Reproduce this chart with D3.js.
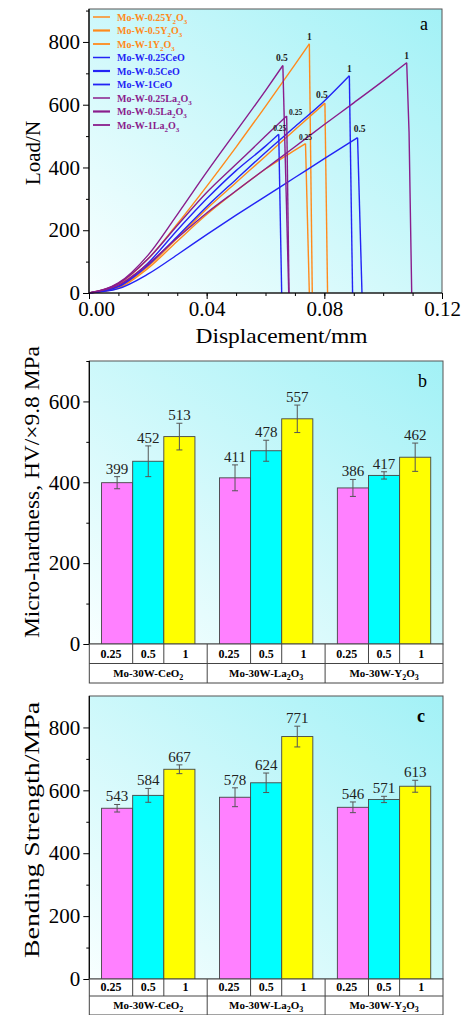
<!DOCTYPE html>
<html>
<head>
<meta charset="utf-8">
<script src="https://cdn.jsdelivr.net/npm/d3@7"></script>
<style>
  body { margin: 0; background: #fff; }
  svg { display: block; }
  svg text { font-family: "Liberation Serif", "Times New Roman", Times, serif; }
</style>
</head>
<body>
<div id="chart"></div>
<script>
// ---------- data: panel a (load vs displacement) ----------
const seriesNames = ["Mo-W-0.25", "Mo-W-0.5", "Mo-W-1", "Mo-W-0.25", "Mo-W-0.5", "Mo-W-1", "Mo-W-0.25", "Mo-W-0.5", "Mo-W-1"];
const seriesOxide = ["Y2O3", "Y2O3", "Y2O3", "CeO", "CeO", "CeO", "La2O3", "La2O3", "La2O3"];
const seriesLevel = ["0.25", "0.5", "1", "0.25", "0.5", "1", "0.25", "0.5", "1"];

const curveY025 = [[0,0],[0.01,16],[0.02,78],[0.03,165],[0.04,250],[0.05,325],[0.06,395],[0.07,455],[0.0736,476],[0.0749,0]];
const curveY05  = [[0,0],[0.01,18],[0.02,84],[0.03,175],[0.04,268],[0.05,352],[0.06,436],[0.07,520],[0.0802,605],[0.0811,0]];
const curveY1   = [[0,0],[0.01,28],[0.02,108],[0.03,220],[0.04,340],[0.05,465],[0.06,595],[0.07,728],[0.0749,794],[0.0759,0]];
const curveCe025 = [[0,0],[0.01,22],[0.02,95],[0.03,200],[0.04,300],[0.05,390],[0.06,468],[0.0645,506],[0.0655,0]];
const curveCe05  = [[0,0],[0.01,14],[0.02,60],[0.03,122],[0.04,186],[0.05,248],[0.06,308],[0.07,368],[0.08,428],[0.0913,495],[0.0928,0]];
const curveCe1   = [[0,0],[0.01,20],[0.02,88],[0.03,180],[0.04,275],[0.05,362],[0.06,448],[0.07,530],[0.08,612],[0.0885,692],[0.0896,0]];
const curveLa025 = [[0,0],[0.01,30],[0.02,108],[0.03,215],[0.04,320],[0.05,410],[0.06,500],[0.0672,564],[0.068,0]];
const curveLa05  = [[0,0],[0.01,32],[0.02,120],[0.03,250],[0.04,385],[0.05,515],[0.06,645],[0.0659,725],[0.0679,0]];
const curveLa1   = [[0,0],[0.01,25],[0.02,92],[0.03,175],[0.04,255],[0.05,326],[0.06,396],[0.07,466],[0.08,537],[0.09,606],[0.1,676],[0.108,734],[0.1088,512],[0.1097,0]];
const curves = [curveY025, curveY05, curveY1, curveCe025, curveCe05, curveCe1, curveLa025, curveLa05, curveLa1];

const loadTicks = [0, 200, 400, 600, 800];
const dispTicks = [0, 0.04, 0.08, 0.12];

// ---------- data: panels b and c ----------
const groupPrefix = "Mo-30W-";
const groups = ["CeO2", "La2O3", "Y2O3"];
const levels = ["0.25", "0.5", "1"];
const hardness    = [[399, 452, 513], [411, 478, 557], [386, 417, 462]];
const hardnessErr = [[15, 38, 33], [32, 26, 34], [21, 9, 35]];
const bending     = [[543, 584, 667], [578, 624, 771], [546, 571, 613]];
const bendingErr  = [[12, 22, 14], [30, 31, 33], [17, 10, 19]];
const hardTicks = [0, 200, 400, 600];
const bendTicks = [0, 200, 400, 600, 800];

// ---------- styles ----------
const oxideColor = { "Y2O3": "#ff8a1c", "CeO": "#2323f5", "La2O3": "#8a1d8c" };
const levelWidth = { "0.25": 1.5, "0.5": 2.2, "1": 1.8 };
const barColor = ["#ff80ff", "#00ffff", "#ffff00"];
const serif = "Liberation Serif, Times New Roman, serif";

// peak label nudges (px) per curve
const peakNudge = [[0,-4],[-3,-5],[0,-4],[1,-3],[2,-6],[0,-4],[9,-1],[-1,-4],[0,-4]];

const W = 467, H = 1015;
const svg = d3.select("#chart").append("svg")
  .attr("width", W).attr("height", H)
  .attr("font-family", serif);

const defs = svg.append("defs");
const grad = defs.append("linearGradient").attr("id", "bg")
  .attr("x1", 0).attr("y1", 1).attr("x2", 1).attr("y2", 0);
grad.append("stop").attr("offset", 0).attr("stop-color", "#f8ffff");
grad.append("stop").attr("offset", 1).attr("stop-color", "#a2f1f6");

// formula text helper: digits inside the formula become subscripts
function writeFormula(textSel, prefix, formula, subSize) {
  if (prefix) textSel.append("tspan").text(prefix);
  let sub = false;
  for (const ch of formula) {
    const isDigit = /[0-9]/.test(ch);
    const t = textSel.append("tspan").text(ch);
    if (isDigit && !sub) { t.attr("dy", 3).style("font-size", subSize + "px"); sub = true; }
    else if (isDigit && sub) { t.style("font-size", subSize + "px"); }
    else if (!isDigit && sub) { t.attr("dy", -3); sub = false; }
  }
}

function styleAxis(g, size) {
  g.attr("font-family", serif);
  g.select(".domain").remove();
  g.selectAll(".tick line").attr("stroke", "#000");
  g.selectAll(".tick text").attr("font-size", size).attr("fill", "#000");
}

// ================= panel a =================
const pa = { left: 89, right: 442, top: 9, bottom: 293 };
const xA = d3.scaleLinear().domain([0, 0.12]).range([pa.left, pa.right]);
const yA = d3.scaleLinear().domain([0, 905]).range([pa.bottom, pa.top]);

svg.append("rect").attr("x", pa.left).attr("y", pa.top)
  .attr("width", pa.right - pa.left).attr("height", pa.bottom - pa.top)
  .attr("fill", "url(#bg)").attr("stroke", "#555").attr("stroke-width", 1);

// rising part smooth, fracture drop straight
const rise = d3.line().x(d => xA(d[0])).y(d => yA(d[1])).curve(d3.curveMonotoneX);
const drop = d3.line().x(d => xA(d[0])).y(d => yA(d[1]));
curves.forEach((c, i) => {
  const pk = c.indexOf(c.reduce((a, b) => (b[1] > a[1] ? b : a)));
  const col = oxideColor[seriesOxide[i]];
  svg.append("path").datum(c.slice(0, pk + 1))
    .attr("d", rise).attr("fill", "none").attr("stroke", col).attr("stroke-width", 1.4);
  svg.append("path").datum(c.slice(pk))
    .attr("d", drop).attr("fill", "none").attr("stroke", col).attr("stroke-width", 1.4);
});

// peak labels
curves.forEach((c, i) => {
  const peak = c.reduce((a, b) => (b[1] > a[1] ? b : a));
  const small = seriesLevel[i] === "0.25";
  svg.append("text")
    .attr("x", xA(peak[0]) + peakNudge[i][0])
    .attr("y", yA(peak[1]) + peakNudge[i][1])
    .attr("text-anchor", "middle")
    .attr("font-size", small ? 7.5 : 9.5)
    .attr("font-weight", "bold")
    .attr("fill", "#222")
    .text(seriesLevel[i]);
});

// axes
const gyA = svg.append("g").attr("transform", `translate(${pa.left},0)`)
  .call(d3.axisLeft(yA).tickValues(loadTicks).tickSize(6).tickSizeOuter(0).tickPadding(3));
styleAxis(gyA, 21);
const gyAm = svg.append("g").attr("transform", `translate(${pa.left},0)`)
  .call(d3.axisLeft(yA).tickValues([100, 300, 500, 700, 900]).tickSize(3).tickFormat(""));
styleAxis(gyAm, 21);
const gxA = svg.append("g").attr("transform", `translate(0,${pa.bottom})`)
  .call(d3.axisBottom(xA).tickValues(dispTicks).tickSize(6).tickFormat(d3.format(".2f")).tickPadding(2));
styleAxis(gxA, 21);
gxA.selectAll(".tick text").filter(d => d === 0).attr("dx", 7);
const gxAm = svg.append("g").attr("transform", `translate(0,${pa.bottom})`)
  .call(d3.axisBottom(xA).tickValues(d3.range(1, 12).map(d => d / 100)).tickSize(3).tickFormat(""));
styleAxis(gxAm, 21);
svg.append("line").attr("x1", pa.left).attr("x2", pa.left).attr("y1", pa.top).attr("y2", pa.bottom).attr("stroke", "#000").attr("stroke-width", 1.2);
svg.append("line").attr("x1", pa.left).attr("x2", pa.right).attr("y1", pa.bottom).attr("y2", pa.bottom).attr("stroke", "#000").attr("stroke-width", 1.2);

svg.append("text").attr("transform", `translate(40,${(pa.top + pa.bottom) / 2 + 2}) rotate(-90)`)
  .attr("text-anchor", "middle").attr("font-size", 21).text("Load/N");
svg.append("text").attr("x", 281.5).attr("y", 343)
  .attr("text-anchor", "middle").attr("font-size", 22)
  .attr("textLength", 172).attr("lengthAdjust", "spacingAndGlyphs").text("Displacement/mm");
svg.append("text").attr("x", 420).attr("y", 30).attr("font-size", 18).text("a");

// legend
const legend = svg.append("g").attr("transform", `translate(93,17)`);
seriesNames.forEach((name, i) => {
  const gy = i * 13.5;
  const col = oxideColor[seriesOxide[i]];
  legend.append("line").attr("x1", 0).attr("x2", 17).attr("y1", gy).attr("y2", gy)
    .attr("stroke", col).attr("stroke-width", levelWidth[seriesLevel[i]]);
  const t = legend.append("text").attr("x", 24).attr("y", gy + 3.5)
    .attr("font-size", 10).attr("font-weight", "bold").attr("fill", col);
  writeFormula(t, name, seriesOxide[i], 7);
});

// ================= panels b and c =================
function barPanel(o) {
  const left = 89.3, right = 443;
  const gx = d3.scaleBand().domain(groups).range([left, right]).padding(0);
  const bw = gx.bandwidth();
  const inner = d3.scaleBand().domain(levels).range([0.104 * bw, 0.896 * bw]).padding(0);
  const y = d3.scaleLinear().domain([0, o.ymax]).range([o.bottom, o.top]);

  svg.append("rect").attr("x", left).attr("y", o.top)
    .attr("width", right - left).attr("height", o.bottom - o.top)
    .attr("fill", "url(#bg)").attr("stroke", "#555").attr("stroke-width", 1);

  groups.forEach((g, gi) => {
    levels.forEach((lv, li) => {
      const v = o.values[gi][li], e = o.errors[gi][li];
      const x0 = gx(g) + inner(lv);
      const cx = x0 + inner.bandwidth() / 2;
      svg.append("rect").attr("x", x0).attr("y", y(v))
        .attr("width", inner.bandwidth()).attr("height", y(0) - y(v))
        .attr("fill", barColor[li]).attr("stroke", "#444").attr("stroke-width", 0.9);
      const eg = svg.append("g").attr("stroke", "#555").attr("stroke-width", 1);
      eg.append("line").attr("x1", cx).attr("x2", cx).attr("y1", y(v + e)).attr("y2", y(v - e));
      eg.append("line").attr("x1", cx - 3).attr("x2", cx + 3).attr("y1", y(v + e)).attr("y2", y(v + e));
      eg.append("line").attr("x1", cx - 3).attr("x2", cx + 3).attr("y1", y(v - e)).attr("y2", y(v - e));
      svg.append("text").attr("x", cx).attr("y", y(v + e) - 3)
        .attr("text-anchor", "middle").attr("font-size", 15).attr("fill", "#222").text(v);
    });
  });

  const gy = svg.append("g").attr("transform", `translate(${left},0)`)
    .call(d3.axisLeft(y).tickValues(o.ticks).tickSize(6).tickSizeOuter(0).tickPadding(3));
  styleAxis(gy, 21);
  const gym = svg.append("g").attr("transform", `translate(${left},0)`)
    .call(d3.axisLeft(y).tickValues(o.minor).tickSize(3).tickFormat(""));
  styleAxis(gym, 21);
  svg.append("line").attr("x1", left).attr("x2", left).attr("y1", o.top).attr("y2", o.bottom)
    .attr("stroke", "#000").attr("stroke-width", 1.2);

  // category table under the axis
  const r0 = o.bottom, r1 = o.bottom + o.row1, r2 = r1 + o.row2;
  const tg = svg.append("g");
  tg.append("rect").attr("x", left).attr("y", r0).attr("width", right - left).attr("height", r2 - r0)
    .attr("fill", "#fff").attr("stroke", "#444").attr("stroke-width", 1);
  tg.append("line").attr("x1", left).attr("x2", right).attr("y1", r1).attr("y2", r1)
    .attr("stroke", "#444").attr("stroke-width", 1);
  groups.forEach((g, gi) => {
    const g0 = gx(g);
    const edges = [g0, g0 + inner("0.25") + inner.bandwidth(), g0 + inner("0.5") + inner.bandwidth(), g0 + bw];
    levels.forEach((lv, li) => {
      if (li > 0) tg.append("line").attr("x1", edges[li]).attr("x2", edges[li]).attr("y1", r0).attr("y2", r1)
        .attr("stroke", "#444").attr("stroke-width", 1);
      tg.append("text").attr("x", (edges[li] + edges[li + 1]) / 2).attr("y", r1 - o.row1 * 0.27)
        .attr("text-anchor", "middle").attr("font-size", 12).attr("font-weight", "bold").text(lv);
    });
    if (gi > 0) tg.append("line").attr("x1", g0).attr("x2", g0).attr("y1", r0).attr("y2", r2)
      .attr("stroke", "#444").attr("stroke-width", 1);
    const t = tg.append("text").attr("x", g0 + bw / 2).attr("y", r2 - o.row2 * 0.3)
      .attr("text-anchor", "middle").attr("font-size", 11).attr("font-weight", "bold");
    writeFormula(t, groupPrefix, g, 8);
  });

  svg.append("text").attr("transform", `translate(39,${o.titleY}) rotate(-90)`)
    .attr("text-anchor", "middle").attr("font-size", 21)
    .attr("textLength", o.titleLen).attr("lengthAdjust", "spacingAndGlyphs").text(o.title);
  svg.append("text").attr("x", o.letterX).attr("y", o.top + 26).attr("font-size", 18)
    .attr("font-weight", o.letterBold ? "bold" : "normal").text(o.letter);
}

barPanel({
  top: 361, bottom: 644, ymax: 700, ticks: hardTicks, minor: [100, 300, 500, 700],
  values: hardness, errors: hardnessErr, row1: 19.5, row2: 19.5,
  title: "Micro-hardness, HV/\u00d79.8 MPa", titleY: 492, titleLen: 292,
  letter: "b", letterX: 418, letterBold: false
});
barPanel({
  top: 696, bottom: 979, ymax: 900, ticks: bendTicks, minor: [100, 300, 500, 700],
  values: bending, errors: bendingErr, row1: 17, row2: 19,
  title: "Bending Strength/MPa", titleY: 830, titleLen: 256,
  letter: "c", letterX: 417, letterBold: true
});
</script>
</body>
</html>
